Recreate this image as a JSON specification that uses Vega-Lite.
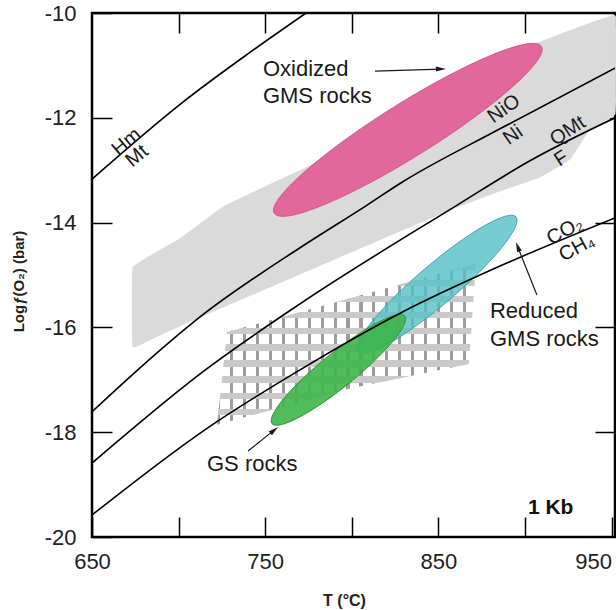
{
  "$schema": "https://vega.github.io/schema/vega-lite/v6.json",
  "width": 523,
  "height": 524,
  "autosize": {"type": "none"},
  "padding": {"left": 92, "top": 13, "right": 1, "bottom": 73},
  "background": "white",
  "config": {
    "view": {"stroke": "black", "strokeWidth": 2.5},
    "font": "Liberation Sans",
    "text": {"font": "Liberation Sans", "color": "#1a1a1a"}
  },
  "datasets": {
    "grey": [
      {"i": 0, "T": 673.7, "f": -14.85},
      {"i": 1, "T": 700.8, "f": -14.31},
      {"i": 2, "T": 726.8, "f": -13.68},
      {"i": 3, "T": 782.2, "f": -12.82},
      {"i": 4, "T": 842.3, "f": -11.83},
      {"i": 5, "T": 901.7, "f": -10.65},
      {"i": 6, "T": 952, "f": -10.05},
      {"i": 7, "T": 952, "f": -11.93},
      {"i": 8, "T": 937.5, "f": -12.21},
      {"i": 9, "T": 926.0, "f": -12.79},
      {"i": 10, "T": 908.7, "f": -13.13},
      {"i": 11, "T": 883.3, "f": -13.42},
      {"i": 12, "T": 857.9, "f": -13.74},
      {"i": 13, "T": 827.8, "f": -14.16},
      {"i": 14, "T": 770.1, "f": -14.98},
      {"i": 15, "T": 712.4, "f": -15.8},
      {"i": 16, "T": 689.3, "f": -16.14},
      {"i": 17, "T": 673.7, "f": -16.37}
    ],
    "hatch": [
      {"i": 0, "T": 727.9, "f": -16.09},
      {"i": 1, "T": 871.7, "f": -14.78},
      {"i": 2, "T": 867.7, "f": -16.7},
      {"i": 3, "T": 799.5, "f": -17.16},
      {"i": 4, "T": 722.2, "f": -17.86}
    ],
    "ellipses": [
      {"name": "pink", "T": 832.4, "f": -12.23},
      {"name": "cyan", "T": 849.2, "f": -15.18},
      {"name": "green", "T": 792.3, "f": -16.81}
    ],
    "curves": [
      {"name": "HmMt", "T": 650, "f": -13.17},
      {"name": "HmMt", "T": 702.5, "f": -11.7},
      {"name": "HmMt", "T": 740, "f": -10.78},
      {"name": "HmMt", "T": 773.6, "f": -10.0},
      {"name": "NiONi", "T": 650, "f": -17.61},
      {"name": "NiONi", "T": 677.1, "f": -16.79},
      {"name": "NiONi", "T": 712.4, "f": -15.8},
      {"name": "NiONi", "T": 770.1, "f": -14.48},
      {"name": "NiONi", "T": 808.2, "f": -13.68},
      {"name": "NiONi", "T": 829, "f": -13.23},
      {"name": "NiONi", "T": 885.6, "f": -12.21},
      {"name": "NiONi", "T": 952, "f": -11.05},
      {"name": "QMtF", "T": 650, "f": -18.59},
      {"name": "QMtF", "T": 714.7, "f": -16.83},
      {"name": "QMtF", "T": 770.1, "f": -15.55},
      {"name": "QMtF", "T": 860.2, "f": -13.68},
      {"name": "QMtF", "T": 902.9, "f": -12.82},
      {"name": "QMtF", "T": 952, "f": -12.0},
      {"name": "CO2CH4", "T": 650, "f": -19.58},
      {"name": "CO2CH4", "T": 715.8, "f": -17.94},
      {"name": "CO2CH4", "T": 770.1, "f": -16.81},
      {"name": "CO2CH4", "T": 829, "f": -15.71},
      {"name": "CO2CH4", "T": 885.6, "f": -14.83},
      {"name": "CO2CH4", "T": 952, "f": -13.91}
    ],
    "buffers": [
      {"grp": "hm", "text": "Hm", "T": 669.9, "f": -12.46},
      {"grp": "hm", "text": "Mt", "T": 676.0, "f": -12.73},
      {"grp": "ni", "text": "NiO", "T": 887.9, "f": -11.83},
      {"grp": "ni", "text": "Ni", "T": 893.1, "f": -12.33},
      {"grp": "qm", "text": "QMt", "T": 924.8, "f": -12.25},
      {"grp": "qm", "text": "F", "T": 921.0, "f": -12.78},
      {"grp": "co", "text": "CO₂", "T": 923.1, "f": -14.16},
      {"grp": "co", "text": "CH₄", "T": 930.0, "f": -14.48}
    ],
    "notes": [
      {"text": "Oxidized", "T": 748.7, "f": -11.21},
      {"text": "GMS rocks", "T": 748.7, "f": -11.71},
      {"text": "Reduced", "T": 879.8, "f": -15.83},
      {"text": "GMS rocks", "T": 879.8, "f": -16.35},
      {"text": "GS rocks", "T": 716.4, "f": -18.74}
    ],
    "pressure": [
      {"text": "1 Kb", "T": 901.7, "f": -19.57}
    ],
    "arrows": [
      {"name": "ox", "T": 813.4, "f": -11.11, "T2": 851.5, "f2": -11.07},
      {"name": "red", "T": 906.9, "f": -15.38, "T2": 895.8, "f2": -14.46},
      {"name": "gs", "T": 740.1, "f": -18.36, "T2": 755.2, "f2": -17.96}
    ],
    "heads": [
      {"name": "ox", "T": 851.5, "f": -11.07},
      {"name": "red", "T": 895.8, "f": -14.46},
      {"name": "gs", "T": 755.2, "f": -17.96}
    ]
  },
  "encoding": {
    "x": {"field": "T", "type": "quantitative", "scale": {"domain": [650, 952], "nice": false, "zero": false}, "axis": null},
    "y": {"field": "f", "type": "quantitative", "scale": {"domain": [-20, -10], "nice": false, "zero": false}, "axis": null}
  },
  "layer": [
    {
      "data": {"name": "grey"},
      "mark": {"type": "line", "interpolate": "cardinal-closed", "tension": 0.85, "fill": "#dadada", "stroke": "#dadada", "strokeWidth": 1},
      "encoding": {
        "x": {"field": "T", "type": "quantitative", "scale": {"domain": [650, 952], "nice": false, "zero": false},
          "axis": {"orient": "bottom", "values": [650, 700, 750, 800, 850, 900, 950], "labelExpr": "datum.value % 100 == 50 ? '' + datum.value : ''",
            "tickSize": -20, "tickColor": "black", "tickWidth": 1.5, "domain": false, "grid": false,
            "labelPadding": 34, "labelFontSize": 22, "labelFont": "Liberation Sans", "labelColor": "#222222",
            "labelAlign": {"condition": {"test": "datum.value == 950", "value": "right"}, "value": "center"},
            "labelBaseline": "top", "labelFlush": false, "labelOverlap": false,
            "title": "T (°C)", "titleFont": "Liberation Sans", "titleFontSize": 16, "titleFontWeight": "bold", "titleColor": "#222222",
            "titleX": 252, "titleY": 63, "titleAlign": "center", "titleBaseline": "middle"}},
        "y": {"field": "f", "type": "quantitative", "scale": {"domain": [-20, -10], "nice": false, "zero": false},
          "axis": {"orient": "left", "values": [-20, -18, -16, -14, -12, -10], "labelExpr": "'' + datum.value",
            "tickSize": -20, "tickColor": "black", "tickWidth": 1.5, "domain": false, "grid": false,
            "labelPadding": 36, "labelFontSize": 22, "labelFont": "Liberation Sans", "labelColor": "#222222",
            "labelAlign": "right", "labelBaseline": "middle", "labelOverlap": false, "labelFlush": false,
            "title": "Logƒ(O₂) (bar)", "titleFont": "Liberation Sans", "titleFontSize": 15, "titleFontWeight": "bold", "titleColor": "#222222",
            "titleX": -74, "titleY": 268, "titleAngle": -90, "titleAlign": "center", "titleBaseline": "middle"}},
        "order": {"field": "i", "type": "quantitative"}
      }
    },
    {
      "data": {"name": "hatch"},
      "mark": {"type": "line", "interpolate": "linear-closed", "strokeWidth": 0, "stroke": "transparent",
        "fill": {"gradient": "linear", "x1": 0, "y1": 0, "x2": 1, "y2": 0, "stops": [
          {"offset": 0, "color": "#9c9c9c"}, {"offset": 0.012, "color": "#9c9c9c"}, {"offset": 0.012, "color": "#ffffff"}, {"offset": 0.05, "color": "#ffffff"},
          {"offset": 0.05, "color": "#9c9c9c"}, {"offset": 0.062, "color": "#9c9c9c"}, {"offset": 0.062, "color": "#ffffff"}, {"offset": 0.1, "color": "#ffffff"},
          {"offset": 0.1, "color": "#9c9c9c"}, {"offset": 0.112, "color": "#9c9c9c"}, {"offset": 0.112, "color": "#ffffff"}, {"offset": 0.15, "color": "#ffffff"},
          {"offset": 0.15, "color": "#9c9c9c"}, {"offset": 0.162, "color": "#9c9c9c"}, {"offset": 0.162, "color": "#ffffff"}, {"offset": 0.2, "color": "#ffffff"},
          {"offset": 0.2, "color": "#9c9c9c"}, {"offset": 0.212, "color": "#9c9c9c"}, {"offset": 0.212, "color": "#ffffff"}, {"offset": 0.25, "color": "#ffffff"},
          {"offset": 0.25, "color": "#9c9c9c"}, {"offset": 0.262, "color": "#9c9c9c"}, {"offset": 0.262, "color": "#ffffff"}, {"offset": 0.3, "color": "#ffffff"},
          {"offset": 0.3, "color": "#9c9c9c"}, {"offset": 0.312, "color": "#9c9c9c"}, {"offset": 0.312, "color": "#ffffff"}, {"offset": 0.35, "color": "#ffffff"},
          {"offset": 0.35, "color": "#9c9c9c"}, {"offset": 0.362, "color": "#9c9c9c"}, {"offset": 0.362, "color": "#ffffff"}, {"offset": 0.4, "color": "#ffffff"},
          {"offset": 0.4, "color": "#9c9c9c"}, {"offset": 0.412, "color": "#9c9c9c"}, {"offset": 0.412, "color": "#ffffff"}, {"offset": 0.45, "color": "#ffffff"},
          {"offset": 0.45, "color": "#9c9c9c"}, {"offset": 0.462, "color": "#9c9c9c"}, {"offset": 0.462, "color": "#ffffff"}, {"offset": 0.5, "color": "#ffffff"},
          {"offset": 0.5, "color": "#9c9c9c"}, {"offset": 0.512, "color": "#9c9c9c"}, {"offset": 0.512, "color": "#ffffff"}, {"offset": 0.55, "color": "#ffffff"},
          {"offset": 0.55, "color": "#9c9c9c"}, {"offset": 0.562, "color": "#9c9c9c"}, {"offset": 0.562, "color": "#ffffff"}, {"offset": 0.6, "color": "#ffffff"},
          {"offset": 0.6, "color": "#9c9c9c"}, {"offset": 0.612, "color": "#9c9c9c"}, {"offset": 0.612, "color": "#ffffff"}, {"offset": 0.65, "color": "#ffffff"},
          {"offset": 0.65, "color": "#9c9c9c"}, {"offset": 0.662, "color": "#9c9c9c"}, {"offset": 0.662, "color": "#ffffff"}, {"offset": 0.7, "color": "#ffffff"},
          {"offset": 0.7, "color": "#9c9c9c"}, {"offset": 0.712, "color": "#9c9c9c"}, {"offset": 0.712, "color": "#ffffff"}, {"offset": 0.75, "color": "#ffffff"},
          {"offset": 0.75, "color": "#9c9c9c"}, {"offset": 0.762, "color": "#9c9c9c"}, {"offset": 0.762, "color": "#ffffff"}, {"offset": 0.8, "color": "#ffffff"},
          {"offset": 0.8, "color": "#9c9c9c"}, {"offset": 0.812, "color": "#9c9c9c"}, {"offset": 0.812, "color": "#ffffff"}, {"offset": 0.85, "color": "#ffffff"},
          {"offset": 0.85, "color": "#9c9c9c"}, {"offset": 0.862, "color": "#9c9c9c"}, {"offset": 0.862, "color": "#ffffff"}, {"offset": 0.9, "color": "#ffffff"},
          {"offset": 0.9, "color": "#9c9c9c"}, {"offset": 0.912, "color": "#9c9c9c"}, {"offset": 0.912, "color": "#ffffff"}, {"offset": 0.95, "color": "#ffffff"},
          {"offset": 0.95, "color": "#9c9c9c"}, {"offset": 0.962, "color": "#9c9c9c"}, {"offset": 0.962, "color": "#ffffff"}, {"offset": 1, "color": "#ffffff"}
        ]}},
      "encoding": {"order": {"field": "i", "type": "quantitative"}}
    },
    {
      "data": {"name": "hatch"},
      "mark": {"type": "line", "interpolate": "linear-closed", "strokeWidth": 0, "stroke": "transparent",
        "fill": {"gradient": "linear", "x1": 0, "y1": 0, "x2": 0, "y2": 1, "stops": [
          {"offset": 0, "color": "#cacaca"}, {"offset": 0.04, "color": "#cacaca"}, {"offset": 0.04, "color": "rgba(255,255,255,0)"}, {"offset": 0.1, "color": "rgba(255,255,255,0)"},
          {"offset": 0.1, "color": "#cacaca"}, {"offset": 0.14, "color": "#cacaca"}, {"offset": 0.14, "color": "rgba(255,255,255,0)"}, {"offset": 0.2, "color": "rgba(255,255,255,0)"},
          {"offset": 0.2, "color": "#cacaca"}, {"offset": 0.24, "color": "#cacaca"}, {"offset": 0.24, "color": "rgba(255,255,255,0)"}, {"offset": 0.3, "color": "rgba(255,255,255,0)"},
          {"offset": 0.3, "color": "#cacaca"}, {"offset": 0.34, "color": "#cacaca"}, {"offset": 0.34, "color": "rgba(255,255,255,0)"}, {"offset": 0.4, "color": "rgba(255,255,255,0)"},
          {"offset": 0.4, "color": "#cacaca"}, {"offset": 0.44, "color": "#cacaca"}, {"offset": 0.44, "color": "rgba(255,255,255,0)"}, {"offset": 0.5, "color": "rgba(255,255,255,0)"},
          {"offset": 0.5, "color": "#cacaca"}, {"offset": 0.54, "color": "#cacaca"}, {"offset": 0.54, "color": "rgba(255,255,255,0)"}, {"offset": 0.6, "color": "rgba(255,255,255,0)"},
          {"offset": 0.6, "color": "#cacaca"}, {"offset": 0.64, "color": "#cacaca"}, {"offset": 0.64, "color": "rgba(255,255,255,0)"}, {"offset": 0.7, "color": "rgba(255,255,255,0)"},
          {"offset": 0.7, "color": "#cacaca"}, {"offset": 0.74, "color": "#cacaca"}, {"offset": 0.74, "color": "rgba(255,255,255,0)"}, {"offset": 0.8, "color": "rgba(255,255,255,0)"},
          {"offset": 0.8, "color": "#cacaca"}, {"offset": 0.84, "color": "#cacaca"}, {"offset": 0.84, "color": "rgba(255,255,255,0)"}, {"offset": 0.9, "color": "rgba(255,255,255,0)"},
          {"offset": 0.9, "color": "#cacaca"}, {"offset": 0.94, "color": "#cacaca"}, {"offset": 0.94, "color": "rgba(255,255,255,0)"}, {"offset": 1, "color": "rgba(255,255,255,0)"}
        ]}},
      "encoding": {"order": {"field": "i", "type": "quantitative"}}
    },
    {
      "data": {"name": "ellipses"},
      "transform": [{"filter": "datum.name == 'pink'"}],
      "mark": {"type": "point", "filled": true, "shape": "M-1,0A1,0.17,0,1,1,1,0A1,0.17,0,1,1,-1,0Z", "size": 99225, "angle": -32, "fill": "#e2679c", "stroke": "#c45283", "strokeWidth": 0.8, "opacity": 1, "fillOpacity": 1}
    },
    {
      "data": {"name": "ellipses"},
      "transform": [{"filter": "datum.name == 'cyan'"}],
      "mark": {"type": "point", "filled": true, "shape": "M-1,0A1,0.19,0,1,1,1,0A1,0.19,0,1,1,-1,0Z", "size": 43264, "angle": -40.5, "fill": "#52c0c6", "stroke": "#3a9fa6", "strokeWidth": 0.8, "opacity": 1, "fillOpacity": 0.8}
    },
    {
      "data": {"name": "ellipses"},
      "transform": [{"filter": "datum.name == 'green'"}],
      "mark": {"type": "point", "filled": true, "shape": "M-1,0A1,0.2,0,1,1,1,0A1,0.2,0,1,1,-1,0Z", "size": 29241, "angle": -39, "fill": "#3db54a", "stroke": "#2d8f3a", "strokeWidth": 0.8, "opacity": 1, "fillOpacity": 0.9}
    },
    {
      "data": {"name": "curves"},
      "mark": {"type": "line", "interpolate": "monotone", "color": "black", "strokeWidth": 1.6, "clip": true},
      "encoding": {
        "x": {"field": "T", "type": "quantitative", "scale": {"domain": [650, 952], "nice": false, "zero": false},
          "axis": {"orient": "top", "values": [700, 750, 800, 850, 900], "labels": false, "tickSize": -20, "tickColor": "black", "tickWidth": 1.5, "domain": false, "grid": false, "title": null}},
        "y": {"field": "f", "type": "quantitative", "scale": {"domain": [-20, -10], "nice": false, "zero": false},
          "axis": {"orient": "right", "values": [-18, -16, -14, -12], "labels": false, "tickSize": -20, "tickColor": "black", "tickWidth": 1.5, "domain": false, "grid": false, "title": null}},
        "detail": {"field": "name", "type": "nominal"}
      }
    },
    {
      "data": {"name": "arrows"},
      "mark": {"type": "rule", "color": "#1a1a1a", "strokeWidth": 1.2},
      "encoding": {
        "x2": {"field": "T2"},
        "y2": {"field": "f2"}
      }
    },
    {
      "data": {"name": "heads"},
      "transform": [{"filter": "datum.name == 'ox'"}],
      "mark": {"type": "point", "filled": true, "shape": "M0,-1L0.5,1L-0.5,1Z", "size": 100, "angle": 90, "color": "#1a1a1a", "opacity": 1}
    },
    {
      "data": {"name": "heads"},
      "transform": [{"filter": "datum.name == 'red'"}],
      "mark": {"type": "point", "filled": true, "shape": "M0,-1L0.5,1L-0.5,1Z", "size": 100, "angle": -21, "color": "#1a1a1a", "opacity": 1}
    },
    {
      "data": {"name": "heads"},
      "transform": [{"filter": "datum.name == 'gs'"}],
      "mark": {"type": "point", "filled": true, "shape": "M0,-1L0.5,1L-0.5,1Z", "size": 100, "angle": 50, "color": "#1a1a1a", "opacity": 1}
    },
    {
      "data": {"name": "buffers"},
      "transform": [{"filter": "datum.grp == 'hm'"}],
      "mark": {"type": "text", "fontSize": 20, "angle": -40, "align": "center", "baseline": "middle"},
      "encoding": {"text": {"field": "text"}}
    },
    {
      "data": {"name": "buffers"},
      "transform": [{"filter": "datum.grp == 'ni'"}],
      "mark": {"type": "text", "fontSize": 20, "angle": -35, "align": "center", "baseline": "middle"},
      "encoding": {"text": {"field": "text"}}
    },
    {
      "data": {"name": "buffers"},
      "transform": [{"filter": "datum.grp == 'qm'"}],
      "mark": {"type": "text", "fontSize": 20, "angle": -33, "align": "center", "baseline": "middle"},
      "encoding": {"text": {"field": "text"}}
    },
    {
      "data": {"name": "buffers"},
      "transform": [{"filter": "datum.grp == 'co'"}],
      "mark": {"type": "text", "fontSize": 20, "angle": -28, "align": "center", "baseline": "middle"},
      "encoding": {"text": {"field": "text"}}
    },
    {
      "data": {"name": "notes"},
      "mark": {"type": "text", "fontSize": 22, "align": "left", "baseline": "alphabetic"},
      "encoding": {"text": {"field": "text"}}
    },
    {
      "data": {"name": "pressure"},
      "mark": {"type": "text", "fontSize": 21, "fontWeight": "bold", "align": "left", "baseline": "alphabetic", "color": "#111111"},
      "encoding": {"text": {"field": "text"}}
    }
  ],
  "resolve": {"axis": {"x": "independent", "y": "independent"}}
}
